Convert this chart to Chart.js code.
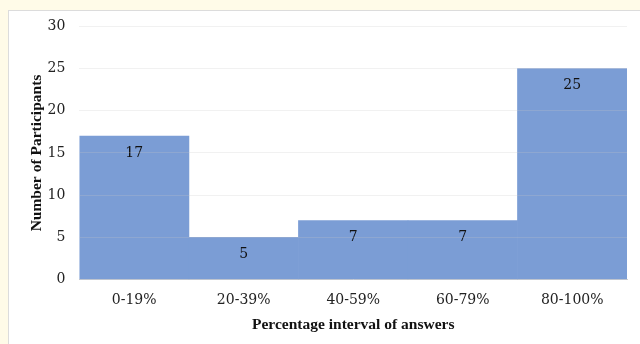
<!DOCTYPE html>
<html><head><meta charset="utf-8">
<script src="https://cdn.jsdelivr.net/npm/chart.js@4"></script>
<style>
html,body{margin:0;padding:0;background:#fffbe8;width:640px;height:344px;overflow:hidden}
#box{position:absolute;left:8px;top:10px;width:640px;height:340px;background:#fff;border:1px solid #dcdcdc}
#wrap{position:absolute;left:0;top:-7px;width:632px;height:341px}
</style></head>
<body>
<div id="box"><div id="wrap"><canvas id="c"></canvas></div></div>
<script>
const categories = ["0-19%", "20-39%", "40-59%", "60-79%", "80-100%"];
const participants = [17, 5, 7, 7, 25];
const yTicks = [0, 5, 10, 15, 20, 25, 30];

const labelPlugin = {
  id: 'barLabels',
  afterDatasetsDraw(chart) {
    const ctx = chart.ctx;
    const meta = chart.getDatasetMeta(0);
    ctx.save();
    ctx.font = '14px "DejaVu Serif"';
    ctx.fillStyle = '#111';
    ctx.textAlign = 'center';
    ctx.textBaseline = 'middle';
    meta.data.forEach((bar, i) => {
      ctx.fillText(String(participants[i]), bar.x, bar.y + 17);
    });
    ctx.restore();
  }
};

new Chart(document.getElementById('c'), {
  type: 'bar',
  data: {
    labels: categories,
    datasets: [{
      data: participants,
      backgroundColor: '#7b9dd5',
      borderWidth: 0,
      barPercentage: 1.0,
      categoryPercentage: 1.0
    }]
  },
  options: {
    responsive: true,
    maintainAspectRatio: false,
    animation: false,
    layout: { padding: { left: 19, right: 14, top: 0, bottom: 11 } },
    plugins: { legend: { display: false }, tooltip: { enabled: false } },
    scales: {
      x: {
        grid: { display: false, drawTicks: false },
        border: { color: '#d0d0d0' },
        ticks: { color: '#222', font: { family: 'DejaVu Serif', size: 14 }, padding: 12 },
        title: { display: true, text: 'Percentage interval of answers', color: '#111',
                 font: { family: 'Liberation Serif', size: 15.5, weight: 'bold' }, padding: { top: -5, bottom: 0 } }
      },
      y: {
        min: 0, max: 30,
        afterBuildTicks(scale) { scale.ticks = yTicks.map(v => ({ value: v })); },
        grid: { color: 'rgba(200,200,200,0.25)', drawTicks: false, z: 1 },
        border: { display: false },
        ticks: { color: '#222', font: { family: 'DejaVu Serif', size: 14 }, padding: 14 },
        title: { display: true, text: 'Number of Participants', color: '#111',
                 font: { family: 'Liberation Serif', size: 15.5, weight: 'bold' }, padding: { top: 0, bottom: -13 } }
      }
    }
  },
  plugins: [labelPlugin]
});
</script>
</body></html>
